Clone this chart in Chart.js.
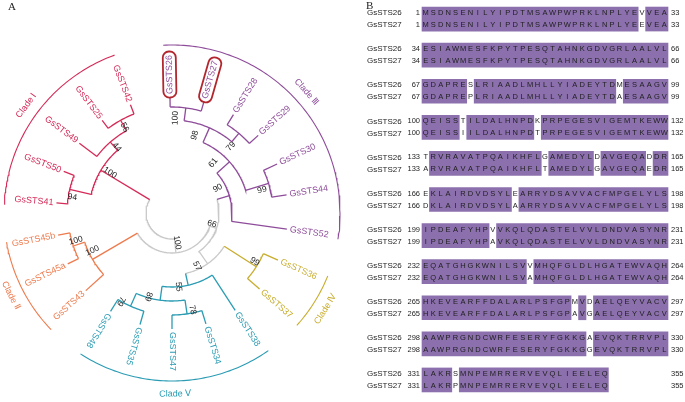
<!DOCTYPE html>
<html>
<head>
<meta charset="utf-8">
<script src="https://cdn.jsdelivr.net/npm/chart.js@4.4.1/dist/chart.umd.min.js"></script>
<style>
  html, body { margin: 0; padding: 0; background: #fff; }
  #wrap { position: relative; width: 685px; height: 402px; overflow: hidden; }
  #tree { position: absolute; left: 0; top: 0; }
  #aln { position: absolute; left: 360px; top: 0; }
</style>
</head>
<body>
<div id="wrap">
  <canvas id="tree" width="360" height="402"></canvas>
  <canvas id="aln" width="325" height="402"></canvas>
</div>
<script>
// ---- panel A: circular tree ----
const leafNames = ['GsSTS26', 'GsSTS27', 'GsSTS28', 'GsSTS29', 'GsSTS30', 'GsSTS44', 'GsSTS52',
    'GsSTS36', 'GsSTS37', 'GsSTS38', 'GsSTS34', 'GsSTS47', 'GsSTS35', 'GsSTS48',
    'GsSTS43', 'GsSTS45a', 'GsSTS45b', 'GsSTS41', 'GsSTS50', 'GsSTS49', 'GsSTS25', 'GsSTS42'];
// degrees, 0 = right, clockwise
const leafAngles = [-91, -74, -58, -42, -25, -9, 8, 24, 41, 57, 73, 90, 106, 122, 138, 154, 169, 185, 201, 217, 233, 249];
const leafClade = ['III', 'III', 'III', 'III', 'III', 'III', 'III', 'IV', 'IV', 'V', 'V', 'V', 'V', 'V',
    'II', 'II', 'II', 'I', 'I', 'I', 'I', 'I'];
const leafDepth = 116;

// internal nodes, children listed before parents
const nodeIds = ['n2627', 'n2829', 'n98', 'n3044', 'n61', 'n90', 'n3637', 'n3447', 'n3548', 'n89', 'n55',
    'n57', 'n66', 'n45ab', 'nII', 'n100', 'n4150', 'n2542', 'n44', 'nI', 'root'];
const nodeChildren = [
    ['GsSTS26', 'GsSTS27'], ['GsSTS28', 'GsSTS29'], ['n2627', 'n2829'], ['GsSTS30', 'GsSTS44'], ['n98', 'n3044'],
    ['n61', 'GsSTS52'], ['GsSTS36', 'GsSTS37'], ['GsSTS34', 'GsSTS47'], ['GsSTS35', 'GsSTS48'], ['n3447', 'n3548'],
    ['GsSTS38', 'n89'], ['n3637', 'n55'], ['n90', 'n57'], ['GsSTS45a', 'GsSTS45b'], ['GsSTS43', 'n45ab'],
    ['n66', 'nII'], ['GsSTS41', 'GsSTS50'], ['GsSTS25', 'GsSTS42'], ['GsSTS49', 'n2542'], ['n4150', 'n44'], ['n100', 'nI'],
];
const nodeDepth = [106, 104, 93, 101, 77, 60, 100, 102, 102, 88, 74, 62, 47, 104, 92, 40, 105, 106, 94, 83, 26];
const nodeSupport = [100, 79, 98, 99, 61, 90, 99, 78, 79, 89, 55, 57, 66, 100, 100, 100, 94, 56, 44, 100, null];
const nodeClade = ['III', 'III', 'III', 'III', 'III', 'III', 'IV', 'V', 'V', 'V', 'V', 'base', 'base', 'II', 'II',
    'base', 'I', 'I', 'I', 'I', 'base'];

const cladeNames = ['I', 'II', 'III', 'IV', 'V'];
const cladeTitles = ['Clade Ⅰ', 'Clade Ⅱ', 'Clade Ⅲ', 'Clade Ⅳ', 'Clade Ⅴ'];
const highlighted = ['GsSTS26', 'GsSTS27'];

// ---- panel B: alignment ----
const seqNames = ['GsSTS26', 'GsSTS27'];
const lineStarts = [1, 34, 67, 100, 133, 166, 199, 232, 265, 298, 331];
const seq26 = [
    'MSDNSENILYIPDTMSAWPWPRKLNPLYEVVEA',
    'ESIAWMESFKPYTPESQTAHNKGDVGRLAALVL',
    'GDAPRESLRIAADLMHLLYIADEYTDMESAAGV',
    'QEISSTILDALHNPDKPRPEGESVIGEMTKEWW',
    'TRVRAVATPQAIKHFLGAMEDYLDAVGEQADDR',
    'EKLAIRDVDSYLEARRYDSAVVACFMPGELYLS',
    'IPDEAFYHPVVKQLQDASTELVVLDNDVASYNR',
    'EQATGHGKWNILSVVMHQFGLDLHGATEWVAQH',
    'HKEVEARFFDALARLPSFGPMVDAELQEYVACV',
    'AAWPRGNDCWRFESERYFGKKGAEVQKTRRVPL',
    'LAKRSMNPEMRRERVEVQLIEELEQ',
];
const seq27 = [
    'MSDNSENILYIPDTMSAWPWPRKLNPLYEEVEA',
    'ESIAWMESFKPYTPESQTAHNKGDVGRLAALVL',
    'GDAPREPLRIAADLMHLLYIADEYTDAESAAGV',
    'QEISSIILDALHNPDTPRPEGESVIGEMTKEWW',
    'ARVRAVATPQAIKHFLTAMEDYLGAVGEQAEDR',
    'DKLAIRDVDSYLAARRYDSAVVACFMPGELYLS',
    'IPDEAFYHPAVKQLQDASTELVVLDNDVASYNR',
    'EQATGHGKWNILSVAMHQFGLDLHGATEWVAQH',
    'HKEVEARFFDALARLPSFGPAVGAELQEYVACV',
    'AAWPRGNDCWRFESERYFGKKGGEVQKTRRVPL',
    'LAKRPMNPEMRRERVEVQLIEELEQ',
];

// ---- styling ----
const colors = {
    I: '#d52a57',
    II: '#ee7b4d',
    III: '#8e4c9a',
    IV: '#c8ad2e',
    V: '#2b9cb4',
    base: '#c9c9c9',
    text: '#1e1e1e',
    box: '#b3262e',
    block: '#8c70ad',
};
const font = '"Liberation Sans", Arial, sans-serif';
const CX = 172;
const CY = 213;
const cladeArcR = 168;
const cladeLabelR = 181;
// where each support value sits relative to its node: [deg, px]
const supportShift = [[-5.5, -11], [1.5, -15], [-7.4, -12], [2.7, -8], [-9, -12], [-11.7, -8], [-2, -4], [-3.5, -3],
    [6, 0], [8, -1], [7.6, 0], [9.8, -3.4], [-3.6, -5.5], [2.5, -4], [5, -4], [-4.4, -10], [-4, -4], [0, -8],
    [1, -8], [2, -9], null];

function polar(angle, r) {
    const t = angle * Math.PI / 180;
    return { x: r * Math.cos(t), y: r * Math.sin(t) };
}

function arcPoints(a0, a1, r) {
    const n = Math.max(2, Math.ceil(Math.abs(a1 - a0)));
    const pts = [];
    for (let i = 0; i <= n; i++) pts.push(polar(a0 + (a1 - a0) * i / n, r));
    return pts;
}

// place leaves and nodes
const pos = {};
const parent = {};
leafNames.forEach((name, i) => {
    pos[name] = { angle: leafAngles[i], r: leafDepth, clade: leafClade[i] };
});
nodeIds.forEach((id, i) => {
    const [a, b] = nodeChildren[i];
    pos[id] = { angle: (pos[a].angle + pos[b].angle) / 2, r: nodeDepth[i], clade: nodeClade[i] };
    parent[a] = id;
    parent[b] = id;
});

const segments = [];
Object.keys(pos).forEach((id) => {
    const p = pos[id];
    if (parent[id]) {
        const q = pos[parent[id]];
        segments.push({ pts: [polar(p.angle, q.r), polar(p.angle, p.r)], color: colors[p.clade] });
    }
});
nodeIds.forEach((id, i) => {
    const [a, b] = nodeChildren[i];
    segments.push({ pts: arcPoints(pos[a].angle, pos[b].angle, nodeDepth[i]), color: colors[nodeClade[i]] });
});
const cladeSpan = cladeNames.map((c) => {
    const angles = leafAngles.filter((_, i) => leafClade[i] === c);
    return [Math.min(...angles) - 2, Math.max(...angles) + 1];
});
cladeNames.forEach((c, i) => {
    segments.push({ pts: arcPoints(cladeSpan[i][0], cladeSpan[i][1], cladeArcR), color: colors[c], clade: true });
});

const treeText = {
    id: 'treeText',
    afterDatasetsDraw(chart) {
        const { ctx } = chart;
        const ox = chart.scales.x.getPixelForValue(0);
        const oy = chart.scales.y.getPixelForValue(0);
        const rad = Math.PI / 180;
        ctx.save();
        ctx.textBaseline = 'middle';

        // leaf names
        ctx.font = `9px ${font}`;
        leafNames.forEach((name, i) => {
            const a = leafAngles[i];
            const w = ctx.measureText(name).width;
            const r0 = leafDepth + 3;
            ctx.save();
            ctx.translate(ox, oy);
            ctx.rotate(a * rad);
            if (highlighted.includes(name)) {
                ctx.strokeStyle = colors.box;
                ctx.lineWidth = 1.8;
                ctx.beginPath();
                ctx.roundRect(r0 - 3.5, -6.5, w + 7, 13, 6);
                ctx.stroke();
            }
            if (a > 130) {
                ctx.translate(r0 + w, 0);
                ctx.rotate(Math.PI);
            } else {
                ctx.translate(r0, 0);
            }
            ctx.fillStyle = colors[leafClade[i]];
            ctx.textAlign = 'left';
            ctx.fillText(name, 0, 0);
            ctx.restore();
        });

        // support values
        ctx.font = `8.5px ${font}`;
        ctx.fillStyle = colors.text;
        nodeIds.forEach((id, i) => {
            if (nodeSupport[i] == null) return;
            const [da, dr] = supportShift[i];
            const a = pos[id].angle + da;
            const p = polar(a, nodeDepth[i] + dr);
            ctx.save();
            ctx.translate(ox + p.x, oy + p.y);
            ctx.rotate((a > 130 ? a - 180 : a) * rad);
            ctx.textAlign = 'center';
            ctx.fillText(String(nodeSupport[i]), 0, 0);
            ctx.restore();
        });

        // clade titles
        ctx.font = `9px ${font}`;
        cladeNames.forEach((c, i) => {
            const m = (cladeSpan[i][0] + cladeSpan[i][1]) / 2;
            const p = polar(m, cladeLabelR);
            ctx.save();
            ctx.translate(ox + p.x, oy + p.y);
            ctx.rotate((m > 0 && m < 180 ? m - 90 : m + 90) * rad);
            ctx.fillStyle = colors[c];
            ctx.textAlign = 'center';
            ctx.fillText(cladeTitles[i], 0, 0);
            ctx.restore();
        });

        ctx.fillStyle = '#222';
        ctx.font = '11px "Liberation Serif", serif';
        ctx.textAlign = 'left';
        ctx.textBaseline = 'top';
        ctx.fillText('A', 8, 2);
        ctx.restore();
    },
};

new Chart(document.getElementById('tree'), {
    type: 'scatter',
    data: {
        datasets: segments.map((s) => ({
            data: s.pts,
            showLine: true,
            borderColor: s.color,
            borderWidth: s.clade ? 1.1 : 1.3,
            pointRadius: 0,
            fill: false,
            tension: 0,
        })),
    },
    options: {
        responsive: false,
        animation: false,
        events: [],
        layout: { padding: 0 },
        plugins: { legend: { display: false }, tooltip: { enabled: false } },
        scales: {
            x: { type: 'linear', display: false, min: -CX, max: 360 - CX },
            y: { type: 'linear', display: false, reverse: true, min: -CY, max: 402 - CY },
        },
    },
    plugins: [treeText],
});

// ---- alignment ----
function identicalRuns(a, b) {
    const runs = [];
    let start = null;
    for (let i = 0; i <= a.length; i++) {
        const same = i < a.length && a[i] === b[i];
        if (same && start === null) start = i + 1;
        if (!same && start !== null) {
            runs.push([start, i]);
            start = null;
        }
    }
    return runs;
}

const lineRuns = seq26.map((line, g) => identicalRuns(line, seq27[g]));
const maxRuns = Math.max(...lineRuns.map((r) => r.length));
const blockSets = [];
for (let k = 0; k < maxRuns; k++) {
    blockSets.push(lineRuns.map((runs) => (runs[k] ? [runs[k][0] - 0.5, runs[k][1] + 0.5] : null)));
}

const alnText = {
    id: 'alnText',
    afterDatasetsDraw(chart) {
        const { ctx } = chart;
        const { x, y } = chart.scales;
        ctx.save();
        ctx.fillStyle = colors.text;
        ctx.textBaseline = 'middle';
        lineStarts.forEach((start, g) => {
            const yc = y.getPixelForValue(g);
            [seq26[g], seq27[g]].forEach((line, k) => {
                const yy = yc + (k ? 6 : -6);
                ctx.font = `8px ${font}`;
                ctx.textAlign = 'left';
                ctx.fillText(seqNames[k], 7, yy);
                ctx.font = `7.5px ${font}`;
                ctx.textAlign = 'right';
                ctx.fillText(String(start), 60, yy);
                ctx.textAlign = 'left';
                ctx.fillText(String(start + line.length - 1), 311, yy);
                ctx.textAlign = 'center';
                for (let i = 0; i < line.length; i++) {
                    ctx.fillText(line[i], x.getPixelForValue(i + 1), yy);
                }
            });
        });
        ctx.fillStyle = '#222';
        ctx.font = '11px "Liberation Serif", serif';
        ctx.textAlign = 'left';
        ctx.textBaseline = 'top';
        ctx.fillText('B', 6, 1);
        ctx.restore();
    },
};

new Chart(document.getElementById('aln'), {
    type: 'bar',
    data: {
        labels: lineStarts.map(String),
        datasets: blockSets.map((d) => ({
            data: d,
            backgroundColor: colors.block,
            borderWidth: 0,
            barThickness: 24,
            grouped: false,
        })),
    },
    options: {
        indexAxis: 'y',
        responsive: false,
        animation: false,
        events: [],
        layout: { padding: { top: 1, bottom: 4, left: 0, right: 0 } },
        plugins: { legend: { display: false }, tooltip: { enabled: false } },
        scales: {
            x: { type: 'linear', display: false, min: -7.817, max: 35.78 },
            y: { display: false },
        },
    },
    plugins: [alnText],
});
</script>
</body>
</html>
